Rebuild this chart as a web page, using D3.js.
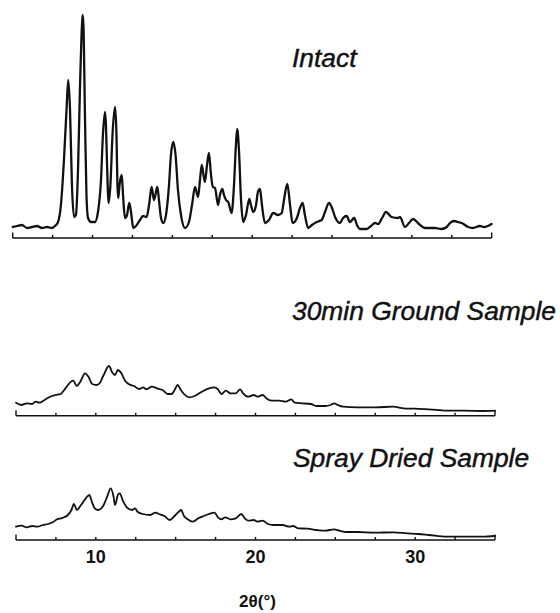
<!DOCTYPE html>
<html>
<head>
<meta charset="utf-8">
<script src="https://cdn.jsdelivr.net/npm/d3@7"></script>
<style>
  body { margin: 0; background: #fff; }
  svg { display: block; }
  .scan { fill: none; stroke: #111; stroke-linejoin: round; stroke-linecap: round; }
  .axis-line, .tick { stroke: #111; fill: none; }
  .title { font-family: "Liberation Sans", Arial, sans-serif; font-style: italic; fill: #111; stroke: #111; stroke-width: 0.45; }
  .ticklabel, .xtitle { font-family: "Liberation Sans", Arial, sans-serif; font-weight: bold; fill: #111; }
</style>
</head>
<body>
<svg width="560" height="613"></svg>
<script>
// 2theta (deg), intensity (a.u.)
const intactScan = [
  [5.00,110],[5.27,120],[5.58,130],[5.90,100],[6.21,110],[6.52,120],[6.83,100],[7.15,110],
  [7.46,100],[7.65,120],[7.84,160],[8.02,330],[8.21,780],[8.37,1280],[8.48,1580],[8.59,1280],
  [8.71,530],[8.84,210],[8.96,230],[9.09,680],[9.21,1480],[9.34,2130],[9.38,2230],[9.43,2130],
  [9.53,1180],[9.62,430],[9.72,200],[9.90,160],[10.15,160],[10.34,260],[10.53,580],[10.65,1030],
  [10.78,1260],[10.84,1130],[10.91,730],[11.01,350],[11.12,530],[11.25,1030],[11.41,1310],[11.50,1030],
  [11.56,530],[11.61,400],[11.69,530],[11.83,630],[11.91,430],[12.03,200],[12.16,230],[12.30,350],
  [12.41,260],[12.55,100],[12.72,120],[12.97,180],[13.16,220],[13.39,210],[13.54,330],[13.70,510],
  [13.85,380],[14.06,510],[14.16,380],[14.29,200],[14.43,150],[14.60,230],[14.79,530],[14.91,830],
  [15.06,960],[15.20,830],[15.35,480],[15.54,230],[15.79,100],[16.04,160],[16.23,330],[16.42,510],
  [16.61,410],[16.73,580],[16.84,730],[16.95,630],[17.04,560],[17.17,730],[17.29,850],[17.42,630],
  [17.54,510],[17.67,500],[17.86,330],[17.98,430],[18.13,490],[18.23,430],[18.36,380],[18.50,360],
  [18.71,250],[18.86,530],[18.98,930],[19.06,1090],[19.17,880],[19.30,380],[19.44,160],[19.61,230],
  [19.82,390],[19.92,330],[20.07,260],[20.24,330],[20.36,460],[20.49,490],[20.61,330],[20.80,150],
  [21.05,180],[21.32,250],[21.61,230],[21.85,250],[21.99,380],[22.20,540],[22.37,330],[22.53,150],
  [22.80,200],[22.99,300],[23.16,350],[23.30,230],[23.51,100],[23.74,130],[24.04,160],[24.35,180],
  [24.56,260],[24.81,350],[25.00,300],[25.19,210],[25.50,150],[25.69,200],[25.92,220],[26.12,160],
  [26.39,200],[26.56,130],[26.75,90],[27.17,90],[27.44,120],[27.69,150],[27.90,140],[28.13,200],
  [28.38,260],[28.73,210],[29.15,200],[29.25,210],[29.57,110],[29.82,150],[30.08,190],[30.38,150],
  [30.82,100],[31.44,100],[31.86,90],[32.18,110],[32.39,150],[32.64,170],[32.89,160],[33.12,150],
  [33.53,110],[33.81,100],[34.26,120],[34.52,110],[34.99,140]
];

const groundScan = [
  [5.00,130],[5.34,107],[5.67,124],[6.01,117],[6.23,140],[6.46,130],[6.79,157],[7.13,190],
  [7.46,207],[7.80,217],[8.02,257],[8.25,307],[8.58,350],[8.81,297],[9.03,340],[9.32,424],
  [9.54,390],[9.77,317],[10.04,307],[10.26,330],[10.49,407],[10.82,497],[11.04,430],[11.20,407],
  [11.38,457],[11.60,424],[11.83,350],[12.05,317],[12.39,297],[12.72,267],[12.95,284],[13.17,264],
  [13.51,290],[13.84,274],[14.18,257],[14.51,217],[14.74,217],[14.96,264],[15.12,307],[15.30,264],
  [15.52,217],[15.86,184],[16.19,197],[16.64,240],[17.09,274],[17.43,284],[17.65,264],[17.87,217],
  [18.14,250],[18.43,224],[18.77,224],[19.04,264],[19.22,224],[19.55,190],[19.89,207],[20.11,190],
  [20.45,207],[20.67,174],[21.01,150],[21.46,150],[21.90,140],[22.24,164],[22.46,130],[22.91,124],
  [23.47,117],[23.81,97],[24.37,97],[24.70,107],[24.93,124],[25.15,107],[25.49,90],[26.38,84],
  [27.50,84],[28.62,90],[29.29,74],[29.96,70],[30.86,64],[31.98,50],[33.10,50],[34.22,47],[35.00,50]
];

const sprayScan = [
  [5.00,133],[5.34,143],[5.67,127],[6.01,140],[6.34,133],[6.68,150],[7.01,160],[7.35,183],
  [7.57,207],[7.80,217],[8.02,227],[8.25,250],[8.47,300],[8.63,360],[8.81,300],[9.03,340],
  [9.37,417],[9.59,450],[9.77,373],[9.93,317],[10.15,300],[10.49,350],[10.71,433],[10.93,517],
  [11.11,433],[11.20,350],[11.38,450],[11.49,467],[11.72,383],[11.94,327],[12.28,300],[12.46,317],
  [12.61,283],[12.95,260],[13.40,250],[13.73,273],[13.96,260],[14.29,240],[14.63,200],[14.85,227],
  [15.19,283],[15.34,300],[15.52,240],[15.75,207],[16.08,183],[16.42,217],[16.75,240],[17.09,260],
  [17.43,273],[17.65,227],[17.87,207],[18.10,227],[18.43,207],[18.77,217],[19.10,260],[19.33,217],
  [19.55,193],[19.89,200],[20.11,183],[20.45,193],[20.78,160],[21.12,150],[21.68,150],[22.13,133],
  [22.35,140],[22.69,117],[23.25,113],[23.81,100],[24.37,93],[24.93,107],[25.26,93],[25.71,80],
  [26.38,80],[27.50,73],[28.62,77],[29.51,67],[30.19,60],[30.86,50],[31.98,33],[33.10,33],
  [34.22,33],[35.00,40]
];

const thetaDomain = [5, 35];
const tickValues = d3.range(5, 35.01, 2.5);
const tickLabels = [10, 20, 30];
const xTitle = "2θ(°)";

const panels = [
  { name: "Intact", data: intactScan, axisY: 238, x0: 12.7, x1: 491.7, lw: 2.3, tx: 292, ty: 67 },
  { name: "30min Ground Sample", data: groundScan, axisY: 415.7, x0: 16, x1: 495, lw: 1.8, tx: 292, ty: 320 },
  { name: "Spray Dried Sample", data: sprayScan, axisY: 540, x0: 16, x1: 495, lw: 1.8, tx: 293, ty: 467 }
];

const svg = d3.select("svg");

// intensity -> height in px, shared by all three scans
const h = d3.scaleLinear().domain([0, 2500]).range([0, 250]);

panels.forEach((p, i) => {
  const x = d3.scaleLinear().domain(thetaDomain).range([p.x0, p.x1]);
  const g = svg.append("g").attr("class", "panel");

  const line = d3.line()
    .x(d => x(d[0]))
    .y(d => p.axisY - h(d[1]))
    .curve(d3.curveMonotoneX);

  g.append("path")
    .datum(p.data)
    .attr("class", "scan")
    .attr("stroke-width", p.lw)
    .attr("d", line);

  g.append("line")
    .attr("class", "axis-line")
    .attr("stroke-width", 1.5)
    .attr("x1", x(thetaDomain[0])).attr("x2", x(thetaDomain[1]))
    .attr("y1", p.axisY).attr("y2", p.axisY);

  g.selectAll("line.tick")
    .data(tickValues)
    .join("line")
      .attr("class", "tick")
      .attr("stroke-width", 1.4)
      .attr("x1", d => x(d)).attr("x2", d => x(d))
      .attr("y1", p.axisY)
      .attr("y2", (d, j) => (j === 0 || j === tickValues.length - 1) ? p.axisY - 5.5 : p.axisY - 3);

  g.append("text")
    .attr("class", "title")
    .attr("x", p.tx)
    .attr("y", p.ty)
    .attr("font-size", 26.4)
    .text(p.name);

  if (i === panels.length - 1) {
    g.selectAll("text.ticklabel")
      .data(tickLabels)
      .join("text")
        .attr("class", "ticklabel")
        .attr("x", d => x(d))
        .attr("y", p.axisY + 23)
        .attr("text-anchor", "middle")
        .attr("font-size", 18)
        .text(d => d);

    g.append("text")
      .attr("class", "xtitle")
      .attr("x", x(20) + 2)
      .attr("y", p.axisY + 67)
      .attr("text-anchor", "middle")
      .attr("font-size", 17)
      .text(xTitle);
  }
});
</script>
</body>
</html>
